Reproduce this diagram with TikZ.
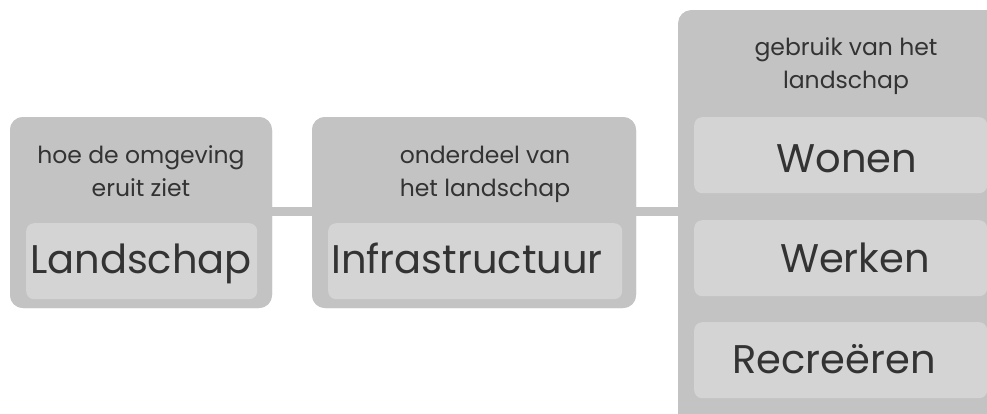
\documentclass[tikz,border=0pt]{standalone}
\usepackage{fontspec}
\setmainfont{Poppins}
\definecolor{outerc}{HTML}{C3C3C3}
\definecolor{innerc}{HTML}{D4D4D4}
\definecolor{txtc}{HTML}{333333}
\begin{document}
\begin{tikzpicture}[x=1pt,y=-1pt,
  outerbox/.style={fill=outerc,rounded corners=13pt,draw=none,inner sep=0pt},
  innerbox/.style={fill=innerc,rounded corners=8pt,draw=none,inner sep=0pt},
  small/.style={text=txtc,font=\fontsize{23.5}{28}\selectfont,anchor=base},
  big/.style={text=txtc,font=\fontsize{40}{46}\selectfont,anchor=base},
  link/.style={draw=outerc,line width=9pt}]
\useasboundingbox (0,0) rectangle (987,413);
\clip (0,0) rectangle (987,413);
% connectors
\coordinate (c1) at (272,211);
\node[outerbox,minimum width=262pt,minimum height=191pt] (b1) at (141,212.5) {};
\node[outerbox,minimum width=324pt,minimum height=191pt] (b2) at (474,212.5) {};
\node[outerbox,minimum width=350pt,minimum height=420pt,anchor=north west] (b3) at (678,10) {};
\draw[link] (b1.east |- c1) -- (b2.west |- c1);
\draw[link] (b2.east |- c1) -- (b3.west |- c1);
\node[outerbox,minimum width=262pt,minimum height=191pt] at (141,212.5) {};
\node[outerbox,minimum width=324pt,minimum height=191pt] at (474,212.5) {};
\node[outerbox,minimum width=350pt,minimum height=420pt,anchor=north west] at (678,10) {};
% inner boxes
\node[innerbox,minimum width=231pt,minimum height=76pt,anchor=north west] (i1) at (26,223) {};
\node[innerbox,minimum width=294pt,minimum height=76pt,anchor=north west] (i2) at (328,223) {};
\node[innerbox,minimum width=293pt,minimum height=76pt,anchor=north west] (i3) at (694,117) {};
\node[innerbox,minimum width=293pt,minimum height=76pt,anchor=north west] (i4) at (694,220) {};
\node[innerbox,minimum width=293pt,minimum height=76pt,anchor=north west] (i5) at (694,322) {};
% small texts
\node[small] (t1a) at (141,163) {hoe de omgeving};
\node[small] (t1b) at (141,196) {eruit ziet};
\node[small] (t2a) at (485,163) {onderdeel van};
\node[small] (t2b) at (485,196) {het landschap};
\node[small] (t3a) at (846,55) {gebruik van het};
\node[small] (t3b) at (846,88) {landschap};
% big texts
\node[big] (l1) at (141,273) {Landschap};
\node[big] (l2) at (467,273) {Infrastructuur};
\node[big] (l3) at (847,172) {Wonen};
\node[big] (l4) at (855,272) {Werken};
\node[big] (l5) at (834,373) {Recreëren};
\end{tikzpicture}
\end{document}
